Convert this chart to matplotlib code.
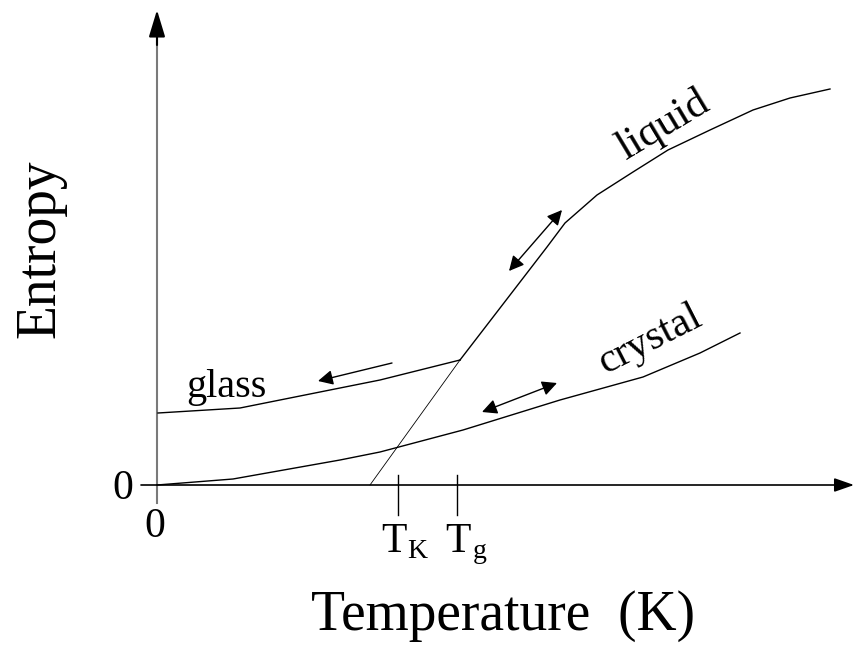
import matplotlib
matplotlib.use("Agg")
import matplotlib.pyplot as plt

plt.rcParams["font.family"] = ["Liberation Serif", "DejaVu Serif"]

# curves (temperature, entropy) in arbitrary units
CRYSTAL_T = [0, 7.6, 18.3, 22.3, 30.6, 40.3, 48.6, 54.3, 58.3]
CRYSTAL_S = [0, 0.6, 2.5, 3.3, 5.5, 8.5, 10.8, 13.2, 15.2]

GLASS_T = [0.1, 8.3, 18.3, 22.3, 30.3]
GLASS_S = [7.2, 7.7, 9.7, 10.5, 12.5]

LIQUID_T = [30.3, 39.0, 40.8, 44.0, 47.6, 51.1, 55.3, 59.6, 63.3, 67.3]
LIQUID_S = [12.5, 23.8, 26.2, 29.0, 31.3, 33.5, 35.5, 37.5, 38.7, 39.6]

# extrapolated liquid (thin line)
EXTRAP_T = [21.3, 30.3]
EXTRAP_S = [0.0, 12.5]

T_K = 24.1
T_G = 30.0

XLIM = (-15.7, 69.7)
YLIM = (-16.0, 48.5)


def arrow(ax, start, end, style, hl=0.9, hw=0.45, lw=1.0, color="black"):
    ax.annotate("", xy=end, xytext=start,
                arrowprops=dict(arrowstyle=f"{style},head_length={hl},head_width={hw}",
                                lw=lw, color=color, shrinkA=0, shrinkB=0))


fig = plt.figure(figsize=(8.54, 6.45), dpi=100)
ax = fig.add_axes([0, 0, 1, 1])
ax.set_xlim(*XLIM)
ax.set_ylim(*YLIM)
ax.axis("off")

# axes with arrow heads
ax.plot([0, 0], [-1.8, 45.3], color="#7a7a7a", lw=1.5)
arrow(ax, (0, 44), (0, 47.5), "-|>", hl=1.65, hw=0.5, lw=1.5)
arrow(ax, (-1.6, 0), (69.7, 0), "-|>", hl=1.2, hw=0.42, lw=1.2)

# curves
ax.plot(CRYSTAL_T, CRYSTAL_S, color="black", lw=1.0)
ax.plot(GLASS_T, GLASS_S, color="black", lw=1.0)
ax.plot(LIQUID_T, LIQUID_S, color="black", lw=1.0)
ax.plot(EXTRAP_T, EXTRAP_S, color="black", lw=0.6)

# T_K and T_g ticks
for t in (T_K, T_G):
    ax.plot([t, t], [1.0, -3.0], color="black", lw=1.0)

# small arrows
arrow(ax, (23.5, 12.2), (16.1, 10.4), "-|>")
arrow(ax, (35.2, 21.4), (40.5, 27.5), "<|-|>")
arrow(ax, (32.5, 7.3), (40.0, 10.2), "<|-|>")

# labels
ax.text(-3.4, -0.4, "0", fontsize=30, ha="center", va="center")
ax.text(-0.2, -4.2, "0", fontsize=30, ha="center", va="center")

ax.text(22.4, -6.7, "T", fontsize=30, ha="left", va="baseline")
ax.text(25.0, -7.3, "K", fontsize=20, ha="left", va="baseline")
ax.text(28.8, -6.7, "T", fontsize=30, ha="left", va="baseline")
ax.text(31.6, -7.3, "g", fontsize=20, ha="left", va="baseline")

ax.text(2.9, 8.8, "glass", fontsize=29, ha="left", va="baseline")
ax.text(50.6, 36.0, "liquid", fontsize=31, ha="center", va="center",
        rotation=31, rotation_mode="anchor")
ax.text(49.3, 14.5, "crystal", fontsize=30, ha="center", va="center",
        rotation=27, rotation_mode="anchor")

ax.text(-11.7, 23.6, "Entropy", fontsize=40, ha="center", va="center", rotation=90)
ax.text(34.6, -14.5, "Temperature  (K)", fontsize=40, ha="center", va="baseline")

fig.savefig("out.png", dpi=100, facecolor="white")
